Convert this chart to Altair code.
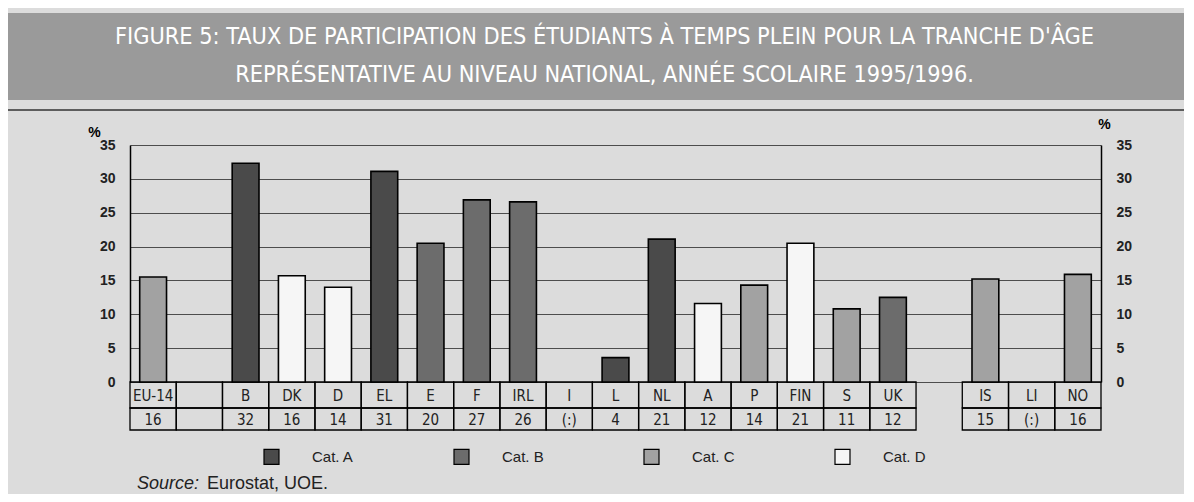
import altair as alt
import pandas as pd

# ---- data ----
countries = ["EU-14", " ", "B", "DK", "D", "EL", "E", "F", "IRL", "I", "L",
             "NL", "A", "P", "FIN", "S", "UK", "  ", "IS", "LI", "NO"]
values = [15.5, None, 32.3, 15.7, 14.0, 31.1, 20.5, 26.9, 26.6, None, 3.6,
          21.1, 11.6, 14.3, 20.5, 10.8, 12.5, None, 15.2, None, 15.9]
printed = ["16", "", "32", "16", "14", "31", "20", "27", "26", "(:)", "4",
           "21", "12", "14", "21", "11", "12", "", "15", "(:)", "16"]
cats = ["Cat. C", None, "Cat. A", "Cat. D", "Cat. D", "Cat. A", "Cat. B", "Cat. B",
        "Cat. B", None, "Cat. A", "Cat. A", "Cat. D", "Cat. C", "Cat. D", "Cat. C",
        "Cat. B", None, "Cat. C", None, "Cat. C"]
boxed = [True] * 17 + [False] + [True] * 3
cat_names = ["Cat. A", "Cat. B", "Cat. C", "Cat. D"]
cat_colors = ["#4a4a4a", "#6c6c6c", "#a2a2a2", "#f6f6f6"]
y_ticks = [0, 5, 10, 15, 20, 25, 30, 35]

title_lines = [
    "FIGURE 5: TAUX DE PARTICIPATION DES ÉTUDIANTS À TEMPS PLEIN POUR LA TRANCHE D'ÂGE",
    "REPRÉSENTATIVE AU NIVEAU NATIONAL, ANNÉE SCOLAIRE 1995/1996.",
]

df = pd.DataFrame({"country": countries, "value": values, "printed": printed,
                   "cat": cats, "boxed": boxed})

FONT = "Liberation Sans Narrow, DejaVu Sans Condensed, Liberation Sans, sans-serif"
FONT2 = "Liberation Sans, Arial, sans-serif"

xenc = alt.X("country:N", sort=countries,
             scale=alt.Scale(domain=countries, paddingInner=0, paddingOuter=0),
             axis=None)
yscale = alt.Scale(domain=[0, 35], nice=False, zero=True)

base = alt.Chart(df)

bars = base.mark_bar(width={"band": 0.58}, stroke="black", strokeWidth=1.6).encode(
    x=xenc,
    y=alt.Y("value:Q", scale=yscale,
            axis=alt.Axis(values=y_ticks, grid=True, gridColor="#4d4d4d", gridWidth=1.2,
                          domain=True, domainColor="black", domainWidth=1.5,
                          ticks=False, labelPadding=15, labelFontSize=14,
                          labelFont=FONT2, labelFontWeight="bold", labelColor="#222",
                          title="%", titleAngle=0, titleX=-36, titleY=-13,
                          titleAlign="center", titleBaseline="middle",
                          titleFontSize=14, titleFontWeight="bold", titleFont=FONT2)),
    color=alt.Color("cat:N", scale=alt.Scale(domain=cat_names, range=cat_colors),
                    legend=alt.Legend(orient="none", legendX=133, legendY=303,
                                      direction="horizontal", title=None,
                                      symbolType="square", symbolSize=225,
                                      symbolStrokeColor="black", symbolStrokeWidth=1.2,
                                      labelFontSize=15, labelFont=FONT2,
                                      labelColor="#222", labelOffset=32,
                                      columnPadding=97)),
)

right_axis = base.mark_rule(opacity=0).encode(
    y=alt.Y("value:Q", scale=yscale,
            axis=alt.Axis(orient="right", values=y_ticks, grid=False, domain=True,
                          domainColor="black", domainWidth=1.5, ticks=False,
                          labelPadding=15, labelFontSize=14, labelFont=FONT2,
                          labelFontWeight="bold", labelColor="#222",
                          title="%", titleAngle=0, titleX=3, titleY=-21,
                          titleAlign="center", titleBaseline="middle",
                          titleFontSize=14, titleFontWeight="bold", titleFont=FONT2)),
)

boxes = base.transform_filter("datum.boxed")
cells1 = boxes.mark_rect(fill="white", fillOpacity=0, stroke="black", strokeWidth=1.3).encode(
    x=xenc, y=alt.value(237), y2=alt.value(263))
cells2 = boxes.mark_rect(fill="white", fillOpacity=0, stroke="black", strokeWidth=1.3).encode(
    x=xenc, y=alt.value(263), y2=alt.value(285))
names = base.mark_text(fontSize=15, font=FONT, color="#222", baseline="middle").encode(
    x=xenc, y=alt.value(251), text="country:N")
nums = base.mark_text(fontSize=15, font=FONT, color="#222", baseline="middle").encode(
    x=xenc, y=alt.value(275), text="printed:N")

one = alt.Data(values=[{}])
banner = alt.Chart(one).mark_rect(color="#9a9a9a").encode(
    x=alt.value(-122), x2=alt.value(1054), y=alt.value(-132), y2=alt.value(-45))
topline = alt.Chart(one).mark_rule(color="#333", strokeWidth=1.5).encode(
    x=alt.value(-122), x2=alt.value(1054), y=alt.value(-35))
src1 = alt.Chart(one).mark_text(text="Source:", fontStyle="italic", fontSize=18,
                                font=FONT2, align="left", baseline="middle",
                                color="#222").encode(x=alt.value(7), y=alt.value(339))
src2 = alt.Chart(one).mark_text(text="Eurostat, UOE.", fontSize=18, font=FONT2,
                                align="left", baseline="middle",
                                color="#222").encode(x=alt.value(77), y=alt.value(339))

chart = alt.layer(banner, topline, cells1, cells2, bars, right_axis, names, nums,
                  src1, src2).resolve_axis(y="independent").properties(
    width=971, height=237,
    autosize=alt.AutoSizeParams(type="none"),
    padding={"left": 122, "top": 137, "right": 83, "bottom": 112},
    background="#dcdcdc",
    title=alt.TitleParams(text=title_lines, font=FONT, fontSize=23.3, color="white",
                          fontWeight="normal", lineHeight=38, anchor="middle",
                          frame="group", dx=-11, dy=74, offset=0),
).configure_view(stroke=None, fill="#dcdcdc")

chart.save("out.html", embed_options={"renderer": "svg", "actions": False})
